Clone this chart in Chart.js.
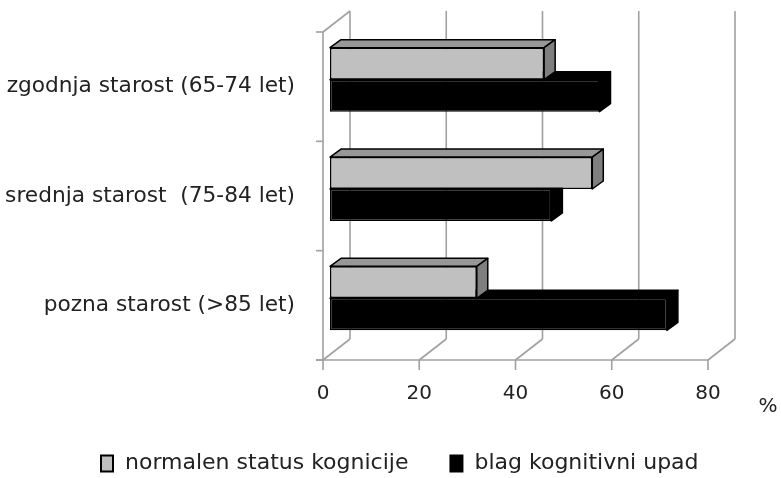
<!DOCTYPE html>
<html>
<head>
<meta charset="utf-8">
<script src="https://cdn.jsdelivr.net/npm/chart.js@4"></script>
<style>
  html, body { margin: 0; padding: 0; background: #fff; }
  #wrap { width: 781px; height: 478px; }
</style>
</head>
<body>
<div id="wrap"><canvas id="chart" width="781" height="478"></canvas></div>
<script>
const categories = ['zgodnja starost (65-74 let)', 'srednja starost  (75-84 let)', 'pozna starost (>85 let)'];
const normalValues = [44.5, 54.5, 30.5];
const mildDeclineValues = [56, 46, 70];
const seriesNames = ['normalen status kognicije', 'blag kognitivni upad'];
const xTicks = [0, 20, 40, 60, 80];

const FONT = '"DejaVu Sans", sans-serif';
const TEXT = '#222';
const WALL = '#a0a0a0';
const wallDepth = { x: 27, y: -21 };   // back wall offset
const barShift = { x: 7, y: -7 };      // bars sit a bit behind the front plane
const barDepth = { x: 11, y: -8 };
const faceColors = [
    { top: '#979797', side: '#7f7f7f' },
    { top: '#000', side: '#000' }
];

function line(ctx, x1, y1, x2, y2) {
    ctx.beginPath();
    ctx.moveTo(x1, y1);
    ctx.lineTo(x2, y2);
    ctx.stroke();
}

function poly(ctx, pts, fill) {
    ctx.beginPath();
    ctx.moveTo(pts[0][0], pts[0][1]);
    for (let i = 1; i < pts.length; i++) ctx.lineTo(pts[i][0], pts[i][1]);
    ctx.closePath();
    ctx.fillStyle = fill;
    ctx.fill();
    ctx.stroke();
}

function noPad(scale) {
    scale.paddingTop = 0;
    scale.paddingBottom = 0;
    scale.paddingLeft = 0;
    scale.paddingRight = 0;
}

const box3d = {
    id: 'box3d',
    beforeDatasetsDraw(chart) {
        const ctx = chart.ctx;
        const xs = chart.scales.x;
        const ys = chart.scales.y;
        const top = ys.top, bottom = ys.bottom;
        ctx.save();
        ctx.strokeStyle = WALL;
        ctx.lineWidth = 1.6;
        // back wall gridlines
        xTicks.forEach(v => {
            const px = xs.getPixelForValue(v);
            line(ctx, px + wallDepth.x, top + wallDepth.y, px + wallDepth.x, bottom + wallDepth.y);
            // floor diagonals + tick marks
            line(ctx, px, bottom, px + wallDepth.x, bottom + wallDepth.y);
            line(ctx, px, bottom, px, bottom + 10);
        });
        // floor front edge
        line(ctx, xs.left - 7, bottom, xs.right, bottom);
        // left wall
        line(ctx, xs.left, top, xs.left, bottom);
        line(ctx, xs.left, top, xs.left + wallDepth.x, top + wallDepth.y);
        // left ticks between categories
        for (let i = 0; i <= categories.length; i++) {
            const py = top + (bottom - top) * i / categories.length;
            line(ctx, xs.left - 7, py, xs.left, py);
        }
        ctx.restore();

        ctx.save();
        ctx.translate(barShift.x, barShift.y);
    },
    afterDatasetDraw(chart, args) {
        const ctx = chart.ctx;
        const colors = faceColors[args.index];
        ctx.save();
        ctx.strokeStyle = '#000';
        ctx.lineWidth = 1.5;
        ctx.lineJoin = 'round';
        args.meta.data.forEach(bar => {
            const p = bar.getProps(['x', 'y', 'base', 'height'], true);
            const l = p.base, r = p.x, t = p.y - p.height / 2, b = p.y + p.height / 2;
            const dx = barDepth.x, dy = barDepth.y;
            poly(ctx, [[l, t], [l + dx, t + dy], [r + dx, t + dy], [r, t]], colors.top);
            poly(ctx, [[r, t], [r + dx, t + dy], [r + dx, b + dy], [r, b]], colors.side);
        });
        ctx.restore();
    },
    afterDatasetsDraw(chart) {
        chart.ctx.restore();
    },
    afterDraw(chart) {
        const ctx = chart.ctx;
        ctx.save();
        ctx.font = '20px ' + FONT;
        ctx.fillStyle = TEXT;
        ctx.textBaseline = 'middle';
        ctx.textAlign = 'center';
        ctx.fillText('%', 768, 407);

        // legend
        ctx.font = '22px ' + FONT;
        ctx.textAlign = 'left';
        let x = 101;
        const y = 463.5;
        chart.data.datasets.forEach(ds => {
            ctx.fillStyle = ds.backgroundColor;
            ctx.strokeStyle = '#000';
            ctx.lineWidth = 2;
            ctx.fillRect(x, y - 8, 12, 16);
            ctx.strokeRect(x, y - 8, 12, 16);
            ctx.fillStyle = TEXT;
            ctx.fillText(ds.label, x + 24, y);
            x += 24 + ctx.measureText(ds.label).width + 42;
        });
        ctx.restore();
    }
};

new Chart(document.getElementById('chart'), {
    type: 'bar',
    data: {
        labels: categories,
        datasets: [{
            label: seriesNames[0],
            data: normalValues,
            backgroundColor: '#c0c0c0',
            borderColor: '#000',
            borderWidth: 1.5,
            borderSkipped: false
        }, {
            label: seriesNames[1],
            data: mildDeclineValues,
            backgroundColor: '#000',
            borderColor: '#000',
            borderWidth: 1.5,
            borderSkipped: false
        }]
    },
    options: {
        indexAxis: 'y',
        responsive: false,
        animation: false,
        events: [],
        categoryPercentage: 0.585,
        barPercentage: 1,
        clip: false,
        layout: { padding: { left: 0, right: 73, top: 32, bottom: 78 } },
        plugins: {
            legend: { display: false },
            tooltip: { enabled: false }
        },
        scales: {
            x: {
                min: 0,
                max: 80,
                afterBuildTicks: (scale) => { scale.ticks = xTicks.map(v => ({ value: v })); },
                afterFit: (scale) => { scale.height = 40; noPad(scale); },
                grid: { display: false, drawTicks: false },
                border: { display: false },
                ticks: { padding: 22, color: TEXT, font: { family: FONT, size: 20 } }
            },
            y: {
                afterFit: (scale) => { scale.width = 323; noPad(scale); },
                grid: { display: false, drawTicks: false },
                border: { display: false },
                ticks: { padding: 28, color: TEXT, font: { family: FONT, size: 21.7 } }
            }
        }
    },
    plugins: [box3d]
});
</script>
</body>
</html>
